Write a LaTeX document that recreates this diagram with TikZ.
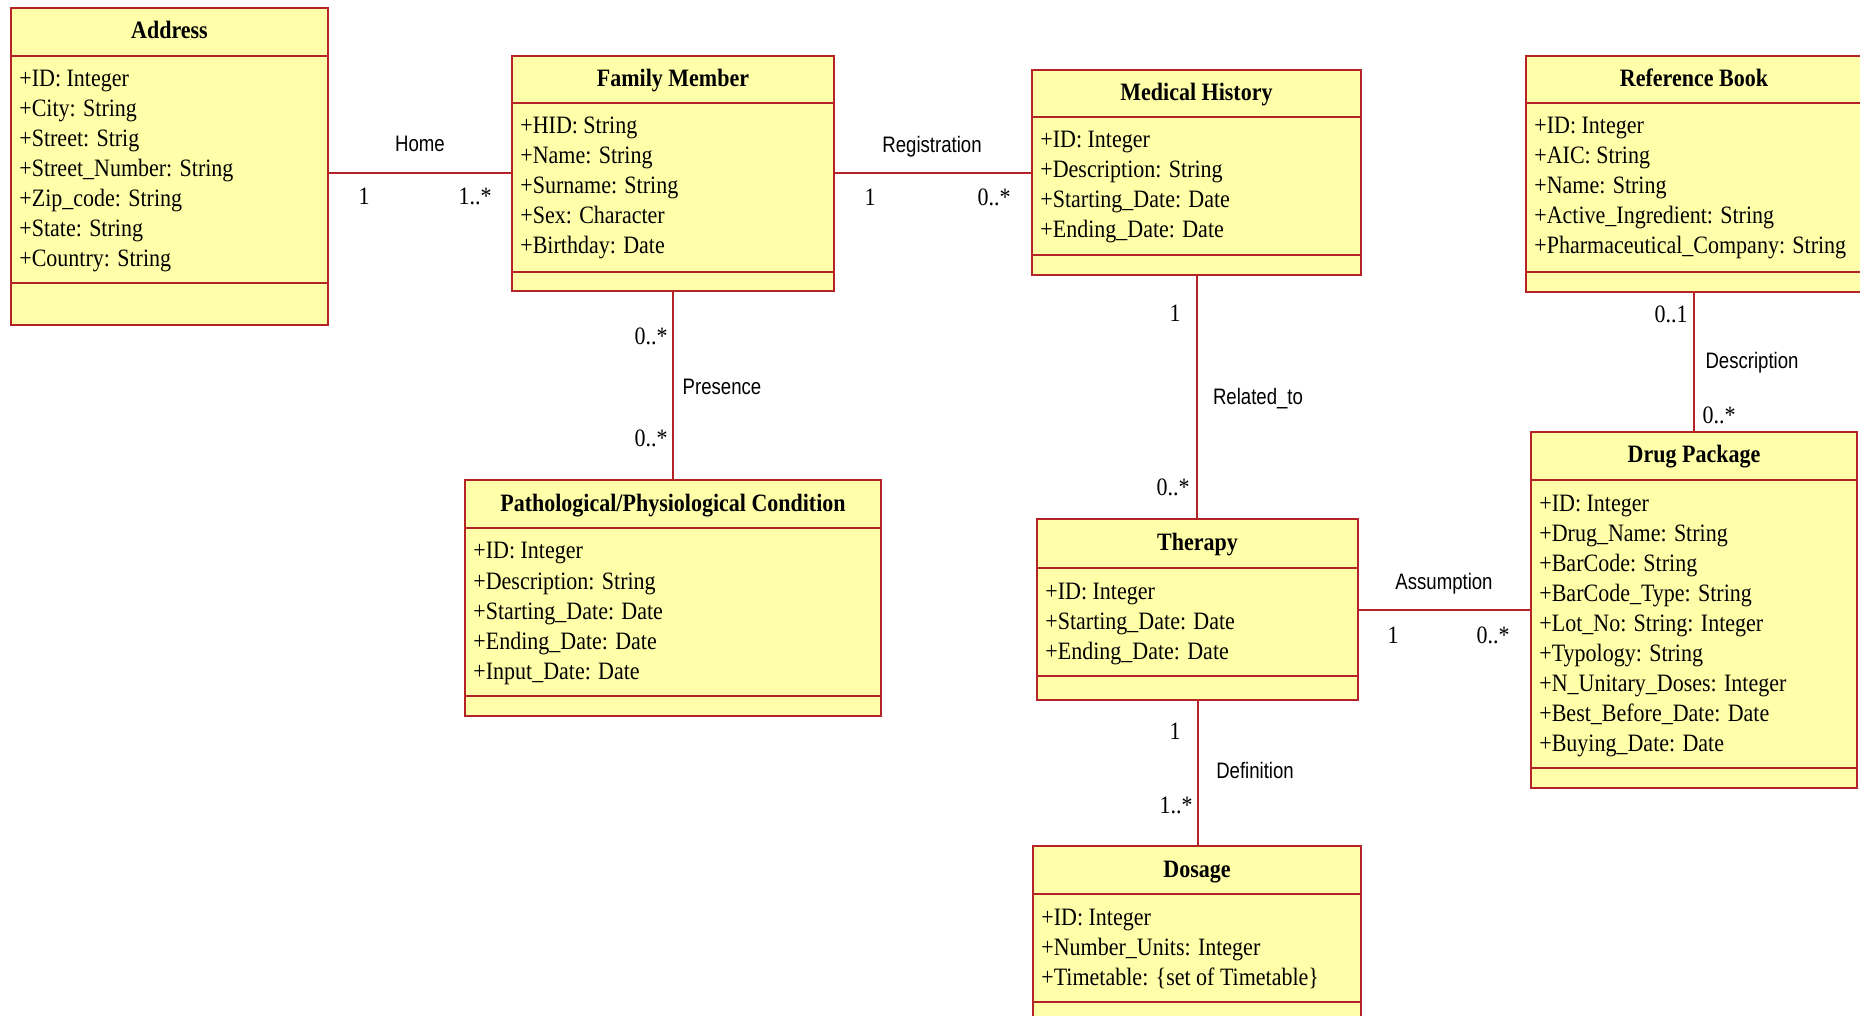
\documentclass[tikz,border=0pt]{standalone}
\usepackage{fontspec}
\newfontfamily\umlserif[FakeStretch=0.88]{Liberation Serif}
\newfontfamily\umlsans[FakeStretch=0.83]{Liberation Sans}
\usetikzlibrary{fit}
\definecolor{umlfill}{RGB}{255,255,170}
\definecolor{umlline}{RGB}{180,35,40}
\tikzset{
  classbox/.style={draw=umlline, fill=umlfill, line width=1.25pt, inner sep=0pt, outer sep=0pt},
  sepline/.style={draw=umlline, line width=1.25pt},
  classtitle/.style={font=\umlserif\bfseries\fontsize{12.5pt}{15pt}\selectfont, inner sep=0pt, anchor=base},
  attrline/.style={font=\umlserif\fontsize{12.5pt}{15pt}\selectfont, inner sep=0pt, anchor=base west},
  assoc/.style={draw=umlline, line width=1pt},
  mult/.style={font=\umlserif\fontsize{12.5pt}{15pt}\selectfont, inner sep=0pt, anchor=base},
  rolename/.style={font=\umlsans\fontsize{11.2pt}{13pt}\selectfont, inner sep=0pt, anchor=base},
}
% #1 name, #2 x1, #3 y1, #4 x2, #5 y2, #6 title separator, #7 attribute separator, #8 title, #9 attributes
\newcommand\umlclass[9]{%
  \node[classbox, fit={(#2,#3) (#4,#5)}] (#1) {};
  \draw[sepline] (#2,#6) -- (#4,#6);
  \draw[sepline] (#2,#7) -- (#4,#7);
  \node[classtitle] (#1-title) at ({(#2+#4)/2},{#3+31}) {#8};
  \foreach \attrtext [count=\i from 0] in {#9} {%
    \node[attrline] (#1-a\i) at ({#2+8},{#6+31+30*\i}) {\attrtext};
  }%
}
\begin{document}
\begin{tikzpicture}[x=0.5pt, y=-0.5pt]
\useasboundingbox (0,0) rectangle (1860,1016);
\fill[white] (0,0) rectangle (1860,1016);
\clip (0,0) rectangle (1860,1016);

\umlclass{addr}{11}{8}{328}{325}{56}{283}{Address}{+ID: Integer, +City: String, +Street: Strig, +Street\_Number: String, +Zip\_code: String, +State: String, +Country: String}
\umlclass{fm}{512}{56}{834}{291}{103}{272}{Family Member}{+HID: String, +Name: String, +Surname: String, +Sex: Character, +Birthday: Date}
\umlclass{mh}{1032}{70}{1361}{275}{117}{255}{Medical History}{+ID: Integer, +Description: String, +Starting\_Date: Date, +Ending\_Date: Date}
\umlclass{rb}{1526}{56}{1862}{292}{103}{272}{Reference Book}{+ID: Integer, +AIC: String, +Name: String, +Active\_Ingredient: String, +Pharmaceutical\_Company: String}
\umlclass{pc}{465}{480}{881}{716}{528}{696}{Pathological/Physiological Condition}{+ID: Integer, +Description: String, +Starting\_Date: Date, +Ending\_Date: Date, +Input\_Date: Date}
\umlclass{th}{1037}{519}{1358}{700}{568}{676}{Therapy}{+ID: Integer, +Starting\_Date: Date, +Ending\_Date: Date}
\umlclass{dp}{1531}{432}{1857}{788}{480}{768}{Drug Package}{+ID: Integer, +Drug\_Name: String, +BarCode: String, +BarCode\_Type: String, +Lot\_No: String: Integer, +Typology: String, +N\_Unitary\_Doses: Integer, +Best\_Before\_Date: Date, +Buying\_Date: Date}
\umlclass{dos}{1033}{846}{1361}{1026}{894}{1002}{Dosage}{+ID: Integer, +Number\_Units: Integer, +Timetable: \{set of Timetable\}}

% associations
\draw[assoc] (addr.east |- fm.west) -- (fm.west);
\draw[assoc] (fm.east) -- (fm.east -| mh.west);
\draw[assoc] (fm.south) -- (fm.south |- pc.north);
\draw[assoc] (mh.south) -- (mh.south |- th.north);
\draw[assoc] (th.east) -- (th.east -| dp.west);
\draw[assoc] (rb.south) -- (rb.south |- dp.north);
\draw[assoc] (th.south) -- (th.south |- dos.north);

% Home
\node[rolename] (homeL) at (420,152) {Home};
\node[mult] (homeA) at (364,205) {1};
\node[mult] (homeB) at (475,205) {1..*};
% Registration
\node[rolename] (regL) at (932,153) {Registration};
\node[mult] (regA) at (870,206) {1};
\node[mult] (regB) at (994,206) {0..*};
% Presence
\node[mult] (preA) at (651,345) {0..*};
\node[rolename] (preL) at (722,395) {Presence};
\node[mult] (preB) at (651,447) {0..*};
% Related_to
\node[mult] (relA) at (1175,322) {1};
\node[rolename] (relL) at (1258,405) {Related\_to};
\node[mult] (relB) at (1173,495) {0..*};
% Assumption
\node[rolename] (assL) at (1444,589) {Assumption};
\node[mult] (assA) at (1393,643) {1};
\node[mult] (assB) at (1493,643) {0..*};
% Description
\node[mult] (desA) at (1671,323) {0..1};
\node[rolename] (desL) at (1752,369) {Description};
\node[mult] (desB) at (1719,423) {0..*};
% Definition
\node[mult] (defA) at (1175,739) {1};
\node[rolename] (defL) at (1255,778) {Definition};
\node[mult] (defB) at (1176,813) {1..*};
\end{tikzpicture}
\end{document}
